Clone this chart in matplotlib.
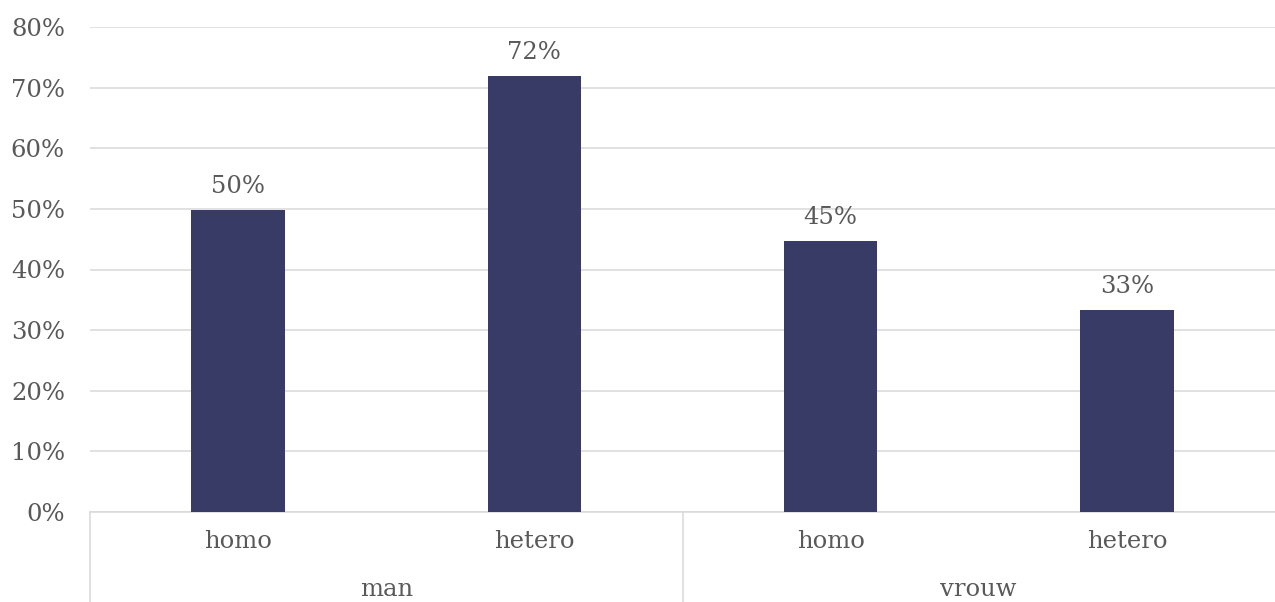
import matplotlib.pyplot as plt
from matplotlib.ticker import PercentFormatter, MultipleLocator
import matplotlib.transforms as mtransforms

groups = ["man", "vrouw"]
sub_labels = ["homo", "hetero", "homo", "hetero"]
values = [0.498, 0.719, 0.447, 0.333]
value_labels = ["50%", "72%", "45%", "33%"]

BAR = "#373b66"
TXT = "#595959"
GRID = "#d9d9d9"
FONT = "DejaVu Serif"
FS = 17.5

plt.rcParams["font.family"] = FONT

W, H = 1275, 602
fig = plt.figure(figsize=(W / 100, H / 100), dpi=100)
ax = fig.add_axes([90 / W, 90 / H, (W - 90) / W, (512 - 27) / H])

x = list(range(len(values)))
ax.bar(x, values, width=0.315, color=BAR, zorder=3)
for xi, v, lab in zip(x, values, value_labels):
    ax.annotate(lab, (xi, v), xytext=(0, 17), textcoords="offset points",
                ha="center", va="center", fontsize=FS, color=TXT)

ax.set_xlim(-0.5, len(values) - 0.5)
ax.set_ylim(0, 0.8)
ax.yaxis.set_major_locator(MultipleLocator(0.1))
ax.yaxis.set_major_formatter(PercentFormatter(1.0, decimals=0))
ax.grid(axis="y", color=GRID, linewidth=1.1, zorder=0)
ax.tick_params(axis="y", length=0, pad=18, labelsize=FS, labelcolor=TXT)
ax.set_xticks([])
for s in ["top", "right", "left"]:
    ax.spines[s].set_visible(False)
ax.spines["bottom"].set_color(GRID)
ax.spines["bottom"].set_linewidth(1.1)

# multi-level category axis
trans = mtransforms.blended_transform_factory(ax.transData, ax.transAxes)
ax_h = (512 - 27)
for xi, lab in zip(x, sub_labels):
    ax.text(xi, -29 / ax_h, lab, transform=trans, ha="center", va="center",
            fontsize=FS, color=TXT)
for gi, g in enumerate(groups):
    ax.text(gi * 2 + 0.5, -78 / ax_h, g, transform=trans, ha="center", va="center",
            fontsize=FS, color=TXT)
for sep in [-0.5, 1.5]:
    ax.plot([sep, sep], [0, -90 / ax_h], transform=trans, color=GRID,
            linewidth=1.1, clip_on=False)

fig.savefig("out.png", dpi=100)
